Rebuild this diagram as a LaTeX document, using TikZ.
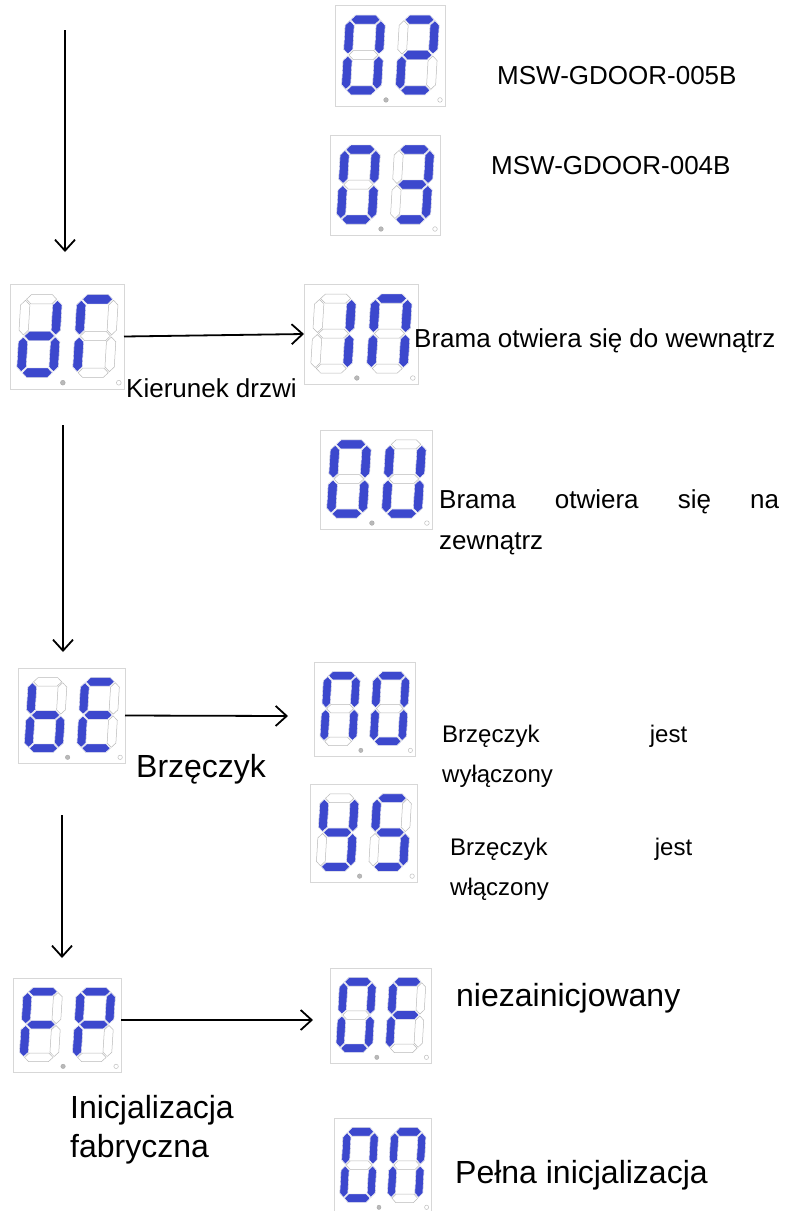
\documentclass[tikz,border=0pt]{standalone}
\usepackage{fontspec}
\setmainfont{Liberation Sans}
\usetikzlibrary{arrows.meta}
\definecolor{segblue}{RGB}{60,72,205}
\definecolor{segoff}{RGB}{185,185,185}
\definecolor{boxgray}{RGB}{215,215,215}
\tikzset{
  sega/.style={insert path={(1,0) -- (5.5,-4.5) -- (25.5,-4.5) -- (30,0) -- (25.5,4.5) -- (5.5,4.5) -- cycle}},
  segg/.style={insert path={(1,35) -- (5.5,30.5) -- (25.5,30.5) -- (30,35) -- (25.5,39.5) -- (5.5,39.5) -- cycle}},
  segd/.style={insert path={(1,70) -- (5.5,65.5) -- (25.5,65.5) -- (30,70) -- (25.5,74.5) -- (5.5,74.5) -- cycle}},
  segf/.style={insert path={(0,1) -- (4.5,5.5) -- (4.5,29.5) -- (0,34) -- (-4.5,29.5) -- (-4.5,5.5) -- cycle}},
  segb/.style={insert path={(31,1) -- (35.5,5.5) -- (35.5,29.5) -- (31,34) -- (26.5,29.5) -- (26.5,5.5) -- cycle}},
  sege/.style={insert path={(0,36) -- (4.5,40.5) -- (4.5,64.5) -- (0,69) -- (-4.5,64.5) -- (-4.5,40.5) -- cycle}},
  segc/.style={insert path={(31,36) -- (35.5,40.5) -- (35.5,64.5) -- (31,69) -- (26.5,64.5) -- (26.5,40.5) -- cycle}},
  dispbox/.style={draw=boxgray, line width=0.8pt, fill=white, inner sep=0pt, outer sep=0pt},
  offseg/.style={draw=segoff, line width=0.5pt, fill=white},
  onseg/.style={fill=segblue, draw=white, line width=0.4pt},
  dpon/.style={fill=gray!55, draw=gray!70, line width=0.4pt},
  dpoff/.style={fill=white, draw=gray!50, line width=0.5pt},
  arr/.style={line width=1.8pt, -{Straight Barb[length=11pt,width=20pt]}},
  lbl/.style={anchor=base west, inner sep=0pt, font=\fontsize{26}{31}\selectfont},
  lblsm/.style={anchor=base west, inner sep=0pt, font=\fontsize{24}{29}\selectfont},
  lblbig/.style={anchor=base west, inner sep=0pt, font=\fontsize{32}{38}\selectfont}
}
\newcommand\sdigit[3]{%
  \begin{scope}[shift={(#1,#2)}, xslant=0.06]
    \foreach \s in {a,b,c,d,e,f,g} {\edef\tmpseg{\noexpand\path[offseg, seg\s];}\tmpseg}
    \foreach \s in {#3} {\edef\tmpseg{\noexpand\path[onseg, seg\s];}\tmpseg}
  \end{scope}}
\newcommand\sdisp[7]{%
  \node[dispbox, minimum width=#3pt, minimum height=#4pt, anchor=north west] (#7) at (#1,#2) {};
  \begin{scope}[shift={(#1,#2)}, xscale=#3/110, yscale=#4/100]
    \sdigit{15}{14.5}{#5}
    \sdigit{69}{14.5}{#6}
    \fill[dpon] (51,94) circle (2.3);
    \draw[dpoff] (105,94) circle (2.3);
  \end{scope}}
\begin{document}
\begin{tikzpicture}[x=1pt, y=-1pt]
\fill[white] (0,0) rectangle (790,1211);
\useasboundingbox (0,0) rectangle (790,1211);
% displays
\sdisp{335}{5}{110}{101}{a,b,c,d,e,f}{a,b,g,e,d}{d1}
\sdisp{330}{135}{110}{100}{a,b,c,d,e,f}{a,b,g,c,d}{d2}
\sdisp{10}{284}{114}{105}{b,c,d,e,g}{a,f,e}{d3}
\sdisp{304}{284}{114}{100}{b,c}{a,b,c,e,f}{d4}
\sdisp{320}{430}{112}{99}{a,b,c,d,e,f}{b,c,d,e,f}{d5}
\sdisp{18}{668}{107}{95}{f,e,g,d,c}{a,f,g,e,d}{d6}
\sdisp{314}{662}{101}{94}{a,b,c,e,f}{a,b,c,d,e,f}{d7}
\sdisp{310}{784}{107}{98}{f,b,g,c,d}{a,f,g,c,d}{d8}
\sdisp{13}{978}{108}{94}{a,f,g,e}{a,b,f,g,e}{d9}
\sdisp{330}{968}{101}{95}{a,b,c,d,e,f}{a,f,g,e}{d10}
\sdisp{334}{1118}{97}{95}{a,b,c,d,e,f}{a,b,c,e,f}{d11}
% arrows
\coordinate (a1s) at (65,30);
\coordinate (a1e) at (65,252);
\draw[arr] (a1s) -- (a1e);
\draw[arr] (d3.east) -- (d4.west);
\coordinate (a3s) at (63,425);
\coordinate (a3e) at (63,652);
\draw[arr] (a3s) -- (a3e);
\coordinate (a4e) at (288,716);
\draw[arr] (d6.east) -- (a4e);
\coordinate (a5s) at (62,815);
\coordinate (a5e) at (62,958);
\draw[arr] (a5s) -- (a5e);
\coordinate (a6e) at (313,1020);
\draw[arr] (d9.east |- a6e) -- (a6e);
% labels
\node[lbl] (t1) at (497,84) {MSW-GDOOR-005B};
\node[lbl] (t2) at (491,174) {MSW-GDOOR-004B};
\node[lbl] (t3) at (414,347) {Brama otwiera się do wewnątrz};
\node[lbl] (t4) at (126,397) {Kierunek drzwi};
\node[lbl] (t5) at (439,508) {\makebox[340pt][s]{Brama otwiera się na}};
\node[lbl] (t6) at (439,549) {zewnątrz};
\node[lblbig] (t7) at (136,777) {Brzęczyk};
\node[lblsm] (t8) at (442,742) {\makebox[245pt][s]{Brzęczyk jest}};
\node[lblsm] (t9) at (442,782) {wyłączony};
\node[lblsm] (t10) at (450,855) {\makebox[242pt][s]{Brzęczyk jest}};
\node[lblsm] (t11) at (450,895) {włączony};
\node[lblbig] (t12) at (456,1006) {niezainicjowany};
\node[lblbig] (t13) at (70,1118) {Inicjalizacja};
\node[lblbig] (t14) at (70,1157) {fabryczna};
\node[lblbig] (t15) at (455,1183) {Pełna inicjalizacja};
\end{tikzpicture}
\end{document}
